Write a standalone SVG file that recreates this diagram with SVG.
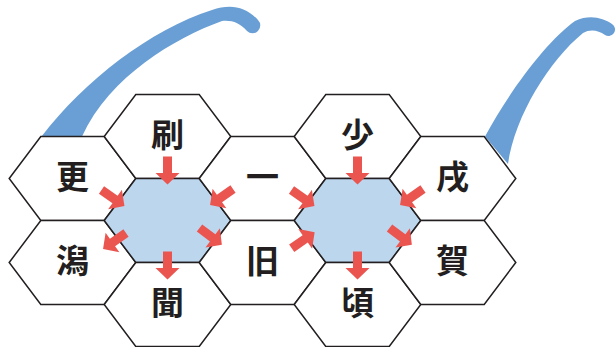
<svg xmlns="http://www.w3.org/2000/svg" xmlns:xlink="http://www.w3.org/1999/xlink" width="616" height="347" viewBox="0 0 616 347">
<style>
.hx{fill:#ffffff;stroke:#231f20;stroke-width:1.5;stroke-linejoin:miter}
.hb{fill:#bcd6ee;stroke:#231f20;stroke-width:1.5}
.tx{font-family:"Noto Sans CJK JP","Noto Sans CJK SC",sans-serif;font-size:33px;font-weight:bold;fill:#231f20;text-anchor:middle}
.temple{fill:#6a9fd5}
.ar{fill:#ea5550}
</style>
<defs>
<polygon id="hex" points="-63.3,0 -31.7,-42 31.7,-42 63.3,0 31.7,42 -31.7,42"/>
<path id="arr" d="M0,-4.5 H16.5 V-12 L28,0 L16.5,12 V4.5 H0 Z"/>
</defs>
<g id="temples">
<path class="temple" d="M41.5,136.5 C85,80 150,30 212,10 C230,4 245,6 258,20 A7,7 0 0 1 247,31 C240,23 232,20 222,21 C175,38 110,76 82,136.5 Z"/>
<path class="temple" d="M485,136.5 C510,90 548,40 575,21 C590,14 603,18 612,24 A6.5,6.5 0 0 1 605,35 C598,30 590,29 583,33 C550,60 515,115 508,164 Z"/>
</g>
<g id="n-sara" transform="translate(72.5,178.5)"><use xlink:href="#hex" class="hx"/><text class="tx" y="10">更</text></g>
<g id="n-kata" transform="translate(72.5,262.5)"><use xlink:href="#hex" class="hx"/><text class="tx" y="10">潟</text></g>
<g id="n-satsu" transform="translate(167.5,136.5)"><use xlink:href="#hex" class="hx"/><text class="tx" y="10">刷</text></g>
<g id="n-blank1" transform="translate(167.5,220.5)"><use xlink:href="#hex" class="hb"/></g>
<g id="n-bun" transform="translate(167.5,304.5)"><use xlink:href="#hex" class="hx"/><text class="tx" y="10">聞</text></g>
<g id="n-ichi" transform="translate(262.5,178.5)"><use xlink:href="#hex" class="hx"/><text class="tx" y="10">一</text></g>
<g id="n-kyu" transform="translate(262.5,262.5)"><use xlink:href="#hex" class="hx"/><text class="tx" y="10">旧</text></g>
<g id="n-sho" transform="translate(357.5,136.5)"><use xlink:href="#hex" class="hx"/><text class="tx" y="10">少</text></g>
<g id="n-blank2" transform="translate(357.5,220.5)"><use xlink:href="#hex" class="hb"/></g>
<g id="n-kei" transform="translate(357.5,304.5)"><use xlink:href="#hex" class="hx"/><text class="tx" y="10">頃</text></g>
<g id="n-ju" transform="translate(452.5,178.5)"><use xlink:href="#hex" class="hx"/><text class="tx" y="10">戌</text></g>
<g id="n-ga" transform="translate(452.5,262.5)"><use xlink:href="#hex" class="hx"/><text class="tx" y="10">賀</text></g>
<g id="connectors">
<use xlink:href="#arr" class="ar" transform="translate(167.5,156.5) rotate(90)"/>
<use xlink:href="#arr" class="ar" transform="translate(167.5,251.5) rotate(90)"/>
<use xlink:href="#arr" class="ar" transform="translate(101.5,190) rotate(35)"/>
<use xlink:href="#arr" class="ar" transform="translate(233,189) rotate(145)"/>
<use xlink:href="#arr" class="ar" transform="translate(126,233) rotate(145)"/>
<use xlink:href="#arr" class="ar" transform="translate(199.5,228) rotate(37)"/>
<use xlink:href="#arr" class="ar" transform="translate(357.5,156.5) rotate(90)"/>
<use xlink:href="#arr" class="ar" transform="translate(357.5,251.5) rotate(90)"/>
<use xlink:href="#arr" class="ar" transform="translate(291.5,190) rotate(35)"/>
<use xlink:href="#arr" class="ar" transform="translate(423,189) rotate(145)"/>
<use xlink:href="#arr" class="ar" transform="translate(291.7,248.3) rotate(-35)"/>
<use xlink:href="#arr" class="ar" transform="translate(389.5,228) rotate(37)"/>
</g>
</svg>
